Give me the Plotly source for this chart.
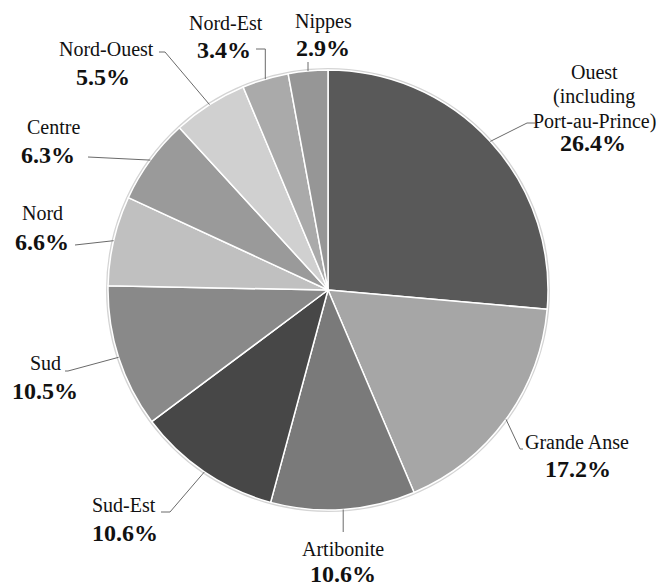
import math
import plotly.graph_objects as go

# ---- data ----
regions = ["Ouest", "Grande Anse", "Artibonite", "Sud-Est", "Sud",
           "Nord", "Centre", "Nord-Ouest", "Nord-Est", "Nippes"]
display_names = [["Ouest", "(including", "Port-au-Prince)"], ["Grande Anse"], ["Artibonite"],
                 ["Sud-Est"], ["Sud"], ["Nord"], ["Centre"], ["Nord-Ouest"], ["Nord-Est"], ["Nippes"]]
shares = [26.4, 17.2, 10.6, 10.6, 10.5, 6.6, 6.3, 5.5, 3.4, 2.9]
colors = ["#595959", "#a6a6a6", "#7a7a7a", "#474747", "#898989",
          "#c0c0c0", "#9a9a9a", "#d0d0d0", "#aaaaaa", "#969696"]

# ---- layout parameters (pixels) ----
W, H = 663, 586
CX, CY, R = 328, 290, 220
FONT = "Liberation Serif"
NAME_SIZE, PCT_SIZE, LINE_GAP = 20, 24, 24.5

# label placement: first name-line centre, pct centre, leader elbow points (label side -> pie)
label_cfg = {
    "Ouest":       dict(name=(594, 72), pct=(593, 143), leader=[(535, 123), (527, 123)]),
    "Grande Anse": dict(name=(577, 442), pct=(578, 469), leader=[(523, 449), (520, 449)]),
    "Artibonite":  dict(name=(343, 549), pct=(343, 574), leader=[(None, 532)]),
    "Sud-Est":     dict(name=(124, 505), pct=(125, 533), leader=[(161, 512), (170, 512)]),
    "Sud":         dict(name=(45, 363), pct=(45, 391), leader=[(65, 371), (68, 371)]),
    "Nord":        dict(name=(42, 213), pct=(42, 242), leader=[(75, 245)]),
    "Centre":      dict(name=(53, 127), pct=(48, 155), leader=[(88, 157)]),
    "Nord-Ouest":  dict(name=(106, 49), pct=(103, 77), leader=[(159, 52), (165, 52)]),
    "Nord-Est":    dict(name=(226, 23), pct=(224, 50), leader=[(256, 49), (None, 49)]),
    "Nippes":      dict(name=(323, 21), pct=(323, 48), leader=[(None, 62)]),
}

fig = go.Figure()

# subtle outline around pie
fig.add_shape(type="circle", xref="x", yref="y",
              x0=CX - R - 1, x1=CX + R + 1, y0=CY - R - 1, y1=CY + R + 1,
              line=dict(color="#d4d4d4", width=2), layer="below")

fig.add_trace(go.Pie(
    labels=regions, values=shares, sort=False, direction="clockwise", rotation=0,
    marker=dict(colors=colors, line=dict(color="white", width=1.5)),
    textinfo="none", hoverinfo="label+percent", showlegend=False,
    domain=dict(x=[(CX - R) / W, (CX + R) / W], y=[1 - (CY + R) / H, 1 - (CY - R) / H]),
))

total = sum(shares)
cum = 0.0
for reg, lines, v in zip(regions, display_names, shares):
    mid = (cum + v / 2) / total * 2 * math.pi
    cum += v
    ex = CX + R * math.sin(mid)
    ey = CY - R * math.cos(mid)
    cfg = label_cfg[reg]
    pts = [(ex, ey)]
    for px, py in reversed(cfg["leader"]):
        pts.append((ex if px is None else px, py))
    path = "M " + " L ".join(f"{x:.1f},{y:.1f}" for x, y in pts)
    fig.add_shape(type="path", xref="x", yref="y", path=path,
                  line=dict(color="#6a6a6a", width=1))
    nx, ny = cfg["name"]
    for k, line in enumerate(lines):
        fig.add_annotation(x=nx, y=ny + k * LINE_GAP, xref="x", yref="y", text=line,
                           showarrow=False,
                           font=dict(family=FONT, size=NAME_SIZE, color="#111111"),
                           xanchor="center", yanchor="middle")
    qx, qy = cfg["pct"]
    fig.add_annotation(x=qx, y=qy, xref="x", yref="y", text=f"<b>{v:.1f}%</b>", showarrow=False,
                       font=dict(family=FONT, size=PCT_SIZE, color="#111111"),
                       xanchor="center", yanchor="middle")

fig.update_layout(
    width=W, height=H, margin=dict(l=0, r=0, t=0, b=0),
    paper_bgcolor="white", plot_bgcolor="rgba(0,0,0,0)",
    font=dict(family=FONT),
    xaxis=dict(range=[0, W], visible=False, fixedrange=True),
    yaxis=dict(range=[H, 0], visible=False, fixedrange=True),
)

fig.write_html("out.html")
